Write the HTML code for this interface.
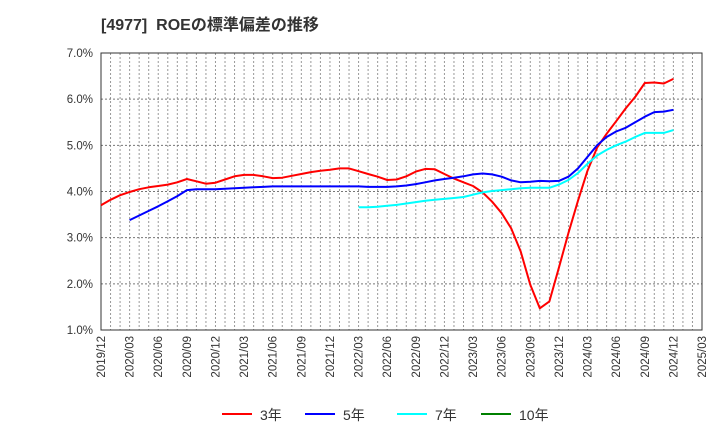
<!DOCTYPE html>
<html><head><meta charset="utf-8"><style>
body{margin:0;background:#fff;}
svg{display:block;font-family:"Liberation Sans","Noto Sans CJK JP",sans-serif;}
</style></head><body>
<svg id="chart" width="720" height="440" viewBox="0 0 720 440">
<text x="101" y="30" font-size="16" font-weight="bold" fill="#333" style="white-space:pre">[4977]  ROEの標準偏差の推移</text>
<g id="grid"></g><g id="axes"></g><g id="series"></g><g id="legend"></g>
</svg>
<script>
const yTicks=[1,2,3,4,5,6,7];
const xLabels=["2019/12","2020/03","2020/06","2020/09","2020/12","2021/03","2021/06","2021/09","2021/12","2022/03","2022/06","2022/09","2022/12","2023/03","2023/06","2023/09","2023/12","2024/03","2024/06","2024/09","2024/12","2025/03"];
const red=[3.70,3.82,3.92,3.99,4.05,4.09,4.12,4.15,4.20,4.27,4.22,4.17,4.19,4.26,4.33,4.36,4.36,4.33,4.29,4.30,4.34,4.38,4.42,4.45,4.47,4.50,4.50,4.44,4.38,4.32,4.25,4.26,4.33,4.43,4.49,4.48,4.38,4.28,4.20,4.12,3.98,3.78,3.53,3.20,2.70,1.98,1.47,1.62,2.35,3.10,3.80,4.45,4.95,5.25,5.52,5.80,6.05,6.35,6.36,6.34,6.44];
const blue=[null,null,null,3.38,3.48,3.58,3.68,3.79,3.90,4.03,4.05,4.05,4.05,4.06,4.07,4.08,4.09,4.10,4.11,4.11,4.11,4.11,4.11,4.11,4.11,4.11,4.11,4.11,4.10,4.10,4.10,4.11,4.13,4.16,4.20,4.24,4.27,4.30,4.33,4.37,4.39,4.37,4.32,4.24,4.20,4.21,4.23,4.22,4.23,4.32,4.50,4.75,5.00,5.18,5.30,5.38,5.50,5.62,5.72,5.73,5.77];
const cyan=[null,null,null,null,null,null,null,null,null,null,null,null,null,null,null,null,null,null,null,null,null,null,null,null,null,null,null,3.66,3.66,3.67,3.69,3.71,3.74,3.77,3.80,3.82,3.84,3.86,3.88,3.93,3.98,4.01,4.03,4.05,4.07,4.08,4.08,4.08,4.15,4.25,4.40,4.60,4.78,4.90,5.00,5.08,5.18,5.27,5.27,5.27,5.33];
const green=[];
const NS="http://www.w3.org/2000/svg";
const L=101,R=702,T=53,B=330,nMonths=63;
const xs=i=>L+i*(R-L)/nMonths;
const ys=v=>B-(v-1)*(B-T)/6;
function mk(tag,attrs,parent){const e=document.createElementNS(NS,tag);for(const k in attrs)e.setAttribute(k,attrs[k]);parent.appendChild(e);return e;}
const grid=document.getElementById('grid'),axes=document.getElementById('axes'),ser=document.getElementById('series'),leg=document.getElementById('legend');
for(let i=1;i<nMonths;i++){const l=mk('line',{x1:xs(i),x2:xs(i),y1:T,y2:B,stroke:'#999','stroke-dasharray':'2,2','stroke-width':1},grid);

}
yTicks.forEach(v=>{if(v>1&&v<7){const l=mk('line',{x1:L,x2:R,y1:ys(v),y2:ys(v),stroke:'#777','stroke-dasharray':'2,2','stroke-width':1},grid);

}
const t=mk('text',{x:93,y:ys(v)+4,'text-anchor':'end','font-size':11.5,fill:'#333'},axes);t.textContent=v.toFixed(1)+'%';

});
const fr=mk('rect',{x:L,y:T,width:R-L,height:B-T,fill:'none',stroke:'#333','stroke-width':1},axes);


xLabels.forEach((s,i)=>{const x=xs(i*3);const t=mk('text',{x:0,y:0,'text-anchor':'end','font-size':11.5,fill:'#333',transform:`translate(${x+4},336) rotate(-90)`},axes);t.textContent=s;

});
function draw(arr,color,name){let d='';let pen=false;arr.forEach((v,i)=>{if(v==null){pen=false;return;}d+=(pen?'L':'M')+xs(i).toFixed(1)+','+ys(v).toFixed(1);pen=true;});
if(!d)return;const p=mk('path',{d:d,fill:'none',stroke:color,'stroke-width':2,'stroke-linejoin':'round'},ser);

}
draw(red,'#ff0000','line-3y');draw(blue,'#0000ff','line-5y');draw(cyan,'#00ffff','line-7y');draw(green,'#008000','line-10y');
[['3年','#ff0000',222],['5年','#0000ff',305],['7年','#00ffff',397],['10年','#008000',481]].forEach(([lab,c,x])=>{
const g=mk('g',{},leg);


mk('line',{x1:x,x2:x+30,y1:414,y2:414,stroke:c,'stroke-width':2},g);
const t=mk('text',{x:x+38,y:420,'font-size':14,fill:'#333'},g);t.textContent=lab;});
</script>
</body></html>
